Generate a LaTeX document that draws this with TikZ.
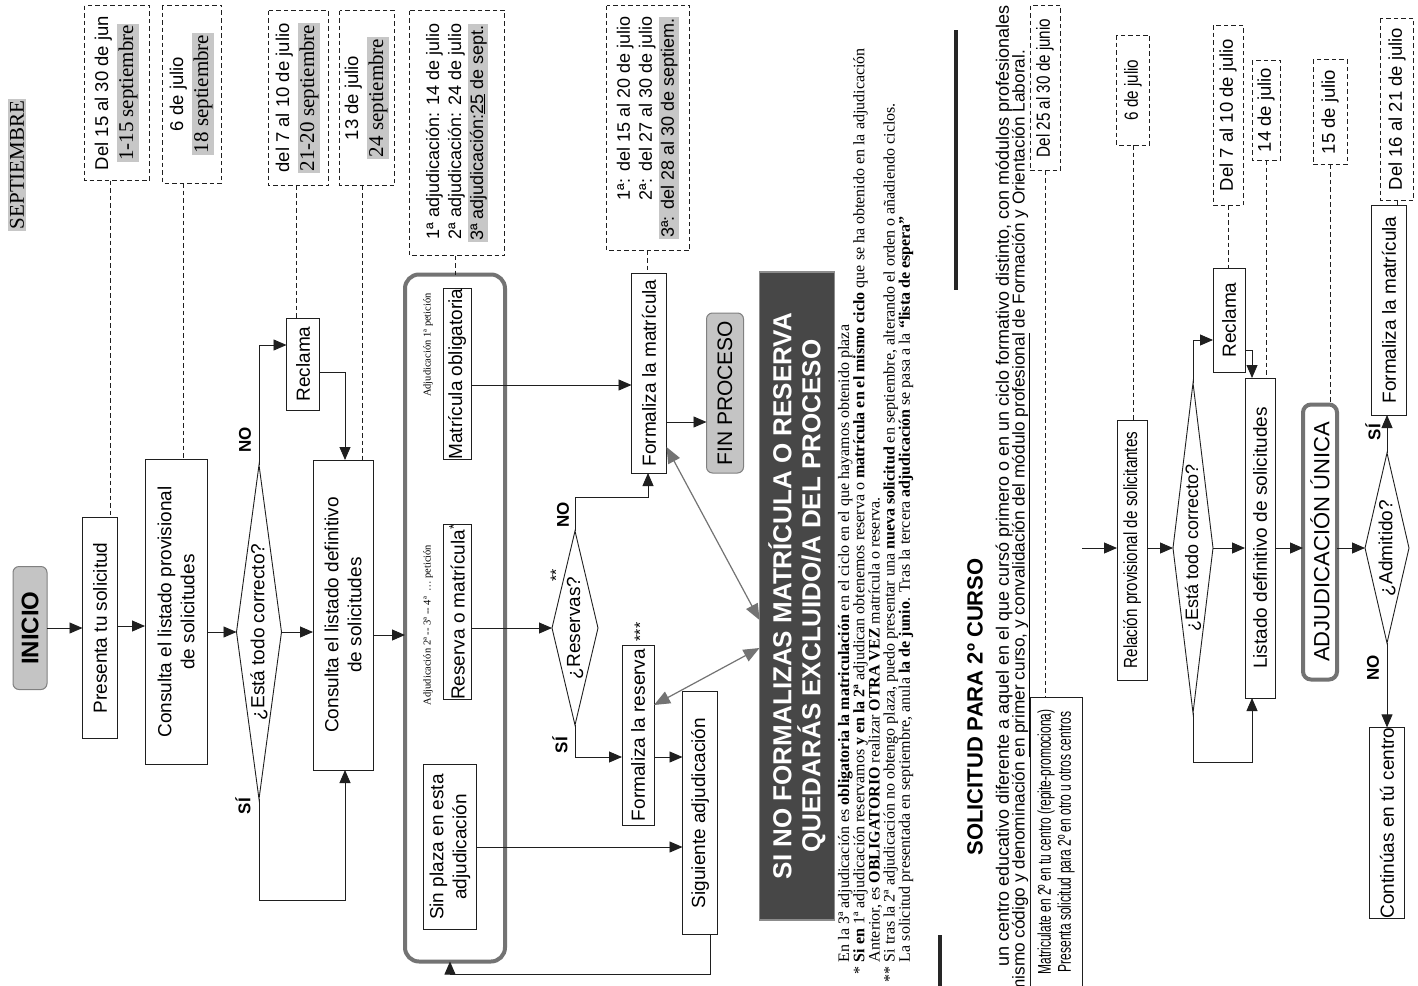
\documentclass[tikz,border=0pt]{standalone}
\usepackage{fontspec}
\setmainfont{Liberation Sans}
\newfontfamily\serfont{Liberation Serif}
\newfontfamily\narfont[FakeStretch=0.8]{Liberation Sans}
\newfontfamily\narrfont[FakeStretch=0.65]{Liberation Sans}
\usetikzlibrary{shapes.geometric,arrows.meta}
\definecolor{hlgray}{gray}{0.78}
\definecolor{ln}{gray}{0.12}
\newcommand\hlg[1]{{\setlength\fboxsep{1.5pt}\colorbox{hlgray}{#1}}}
\newcommand\ftA{\fontsize{19}{23}\selectfont}
\newcommand\ftD{\fontsize{18.5}{23}\selectfont}
\newcommand\ftS{\serfont\fontsize{21}{24}\selectfont}
\newcommand\ftN{\narfont\fontsize{19}{21}\selectfont}
\newcommand\ftL{\bfseries\fontsize{17}{20}\selectfont}
\newcommand\ftT{\serfont\fontsize{10.5}{12}\selectfont}
\newcommand\ftF{\serfont\fontsize{16}{15.2}\selectfont}
\begin{document}
\begin{tikzpicture}[x=1pt,y=-1pt,
 every node/.style={rotate=90,inner sep=0pt,outer sep=0pt},
 sz/.style 2 args={minimum width=#1pt,minimum height=#2pt},
 fbox/.style={draw=ln,line width=0.9pt,fill=white,align=center,font=\ftA},
 nbox/.style={draw=ln,line width=0.9pt,fill=white,align=center,font=\ftN},
 dbox/.style={draw=ln,dash pattern=on 4.5pt off 3pt,line width=0.9pt,align=center,font=\ftD},
 dia/.style={diamond,draw=ln,line width=0.9pt,font=\ftA},
 lab/.style={font=\ftL},
 arr/.style={draw=ln,line width=0.9pt,-{Triangle[length=13pt,width=11pt]}},
 dsh/.style={draw=ln,line width=0.9pt,dash pattern=on 4.5pt off 3pt},
 garr/.style={draw=black!55,line width=1.2pt,{Triangle[length=16pt,width=13pt]}-{Triangle[length=16pt,width=13pt]}},
 heavybox/.style={draw=black!55,line width=4pt,fill=white},
 grayround/.style={draw=black!50,fill=black!23,line width=1pt,rounded corners=6pt},
]
\fill[white] (0,0) rectangle (1418,985);
\useasboundingbox (0,0) rectangle (1418,985);
\clip (0,0) rectangle (1418,985);

% ---------------- Section 1 ----------------
\node[font=\ftS,fill=hlgray,inner sep=1.5pt] (sept) at (17,165) {SEPTIEMBRE};
\node[dbox,sz={175}{65}] (d1) at (117,93) {Del 15 al 30 de jun\\[2pt]\hlg{\ftS 1-15 septiembre}};
\node[dbox,sz={178}{59}] (d2) at (192,94) {6 de julio\\[2pt]\hlg{\ftS 18 septiembre}};
\node[dbox,sz={175}{60}] (d3) at (298,98) {del 7 al 10 de julio\\[2pt]\hlg{\ftS 21-20 septiembre}};
\node[dbox,sz={175}{55}] (d4) at (367,98) {13 de julio\\[2pt]\hlg{\ftS 24 septiembre}};
\node[dbox,sz={245}{95},align=right,font=\fontsize{18}{22}\selectfont] (d5) at (457,133)
  {1ª adjudicación: 14 de julio\\2ª adjudicación: 24 de julio\\\hlg{3ª adjudicación:\underline{25} de sept.}};
\node[dbox,sz={245}{83},align=right,font=\fontsize{18}{22}\selectfont] (d6) at (648,128)
  {1ª: del 15 al 20 de julio\\2ª: del 27 al 30 de julio\\\hlg{3ª: del 28 al 30 de septiem.}};

\node[grayround,sz={123}{34},font=\bfseries\fontsize{24}{28}\selectfont] (inicio) at (30,628) {INICIO};
\node[fbox,sz={221}{35}] (presenta) at (100,628) {Presenta tu solicitud};
\node[fbox,sz={305}{62}] (cons1) at (176,612) {Consulta el listado provisional\\de solicitudes};
\node[dia,sz={334}{45},shape aspect=7.4] (dia1) at (259,632) {¿Está todo correcto?};
\node[fbox,sz={92}{33}] (rec1) at (303,364) {Reclama};
\node[fbox,sz={310}{60}] (cons2) at (343,615) {Consulta el listado definitivo\\de solicitudes};
\node[heavybox,rounded corners=14pt,sz={687}{100}] (big) at (455,618) {};
\node[font=\ftT] (lab1) at (428,345) {Adjudicación 1ª petición};
\node[fbox,sz={162}{28}] (matob) at (457,374) {Matrícula obligatoria};
\node[font=\ftT] (lab2) at (428,625) {Adjudicación 2ª -- 3ª -- 4ª \ \dots\ petición};
\node[fbox,sz={175}{28}] (resmat) at (457,612) {Reserva o matrícula\textsuperscript{*}};
\node[fbox,sz={165}{53}] (sinpl) at (450,847) {Sin plaza en esta\\adjudicación};
\node[dia,sz={194}{46},shape aspect=4.2] (dia2) at (575,628) {¿Reservas?};
\node[fbox,sz={180}{32}] (formres) at (638,735) {Formaliza la reserva};
\node[fbox,sz={200}{35}] (formmat) at (649,373) {Formaliza la matrícula};
\node[fbox,sz={243}{35}] (sig) at (700,813) {Siguiente adjudicación};
\node[grayround,sz={160}{37},font=\fontsize{21}{24}\selectfont] (fin) at (725,393) {FIN PROCESO};
\node[fill=black!72,draw=black!45,line width=1.5pt,sz={648}{75},text=white,align=center,
  font=\bfseries\fontsize{26}{29}\selectfont] (dark) at (797,596)
  {SI NO FORMALIZAS MATRÍCULA O RESERVA\\QUEDARÁS EXCLUIDO/A DEL PROCESO};

\node[lab] (no1) at (245,440) {NO};
\node[lab] (si1) at (243,806) {SÍ};
\node[lab] (no2) at (563,515) {NO};
\node[lab] (si2) at (560,745) {SÍ};
\node[font=\fontsize{16}{16}\selectfont] (ast2) at (556,575) {**};
\node[font=\fontsize{16}{16}\selectfont] (ast3) at (640,632) {***};

\draw[arr] (inicio) -- (presenta);
\draw[arr] (presenta.south |- 0,626) -- (cons1.north |- 0,626);
\draw[arr] (cons1.south |- dia1.north) -- (dia1.north);
\draw[arr] (dia1.south) -- (cons2.north |- dia1.south);
\draw[arr] (dia1.east) |- (rec1.north |- 0,345);
\draw[arr] (rec1.south |- 0,372) -| (cons2.east -| 345,0);
\draw[arr] (dia1.west) -- (dia1.west |- 0,900) -| (cons2.west -| 345,0);
\draw[arr] (cons2.south |- 0,635) -- (big.north |- 0,635);
\draw[arr] (matob.south |- 0,385) -- (formmat.north |- 0,385);
\draw[arr] (resmat.south |- dia2.north) -- (dia2.north);
\draw[arr] (dia2.east) -- (dia2.east |- 0,497) -| (formmat.west -| 648,0);
\draw[arr] (dia2.west) |- (formres.north |- 0,757);
\draw[arr] (formres.south |- 0,757) -- (sig.north |- 0,757);
\draw[arr] (sinpl.south |- 0,847) -- (sig.north |- 0,847);
\draw[arr] (sig.west -| 710,0) -- ++(0,40) -| (big.west -| 450,0);
\draw[arr] (formmat.south |- 0,422) -- (fin.north |- 0,422);
\draw[garr] (formmat.south |- 0,447) -- (dark.north |- 0,620);
\draw[garr] (formres.south |- 0,705) -- (dark.north |- 0,648);

\draw[dsh] (d1.west -| 110,0) -- (presenta.east -| 110,0);
\draw[dsh] (d2.west -| 183,0) -- (cons1.east -| 183,0);
\draw[dsh] (d3.west -| 296,0) -- (rec1.east -| 296,0);
\draw[dsh] (d4.west -| 362,0) -- (cons2.east -| 362,0);
\draw[dsh] (d5.west -| 455,0) -- (big.east -| 455,0);
\draw[dsh] (d6.west -| 647,0) -- (formmat.east -| 647,0);

\node[anchor=north west,font=\ftF,align=left] (notes) at (838,962) {%
En la 3ª adjudicación es \textbf{obligatoria la matriculación} en el ciclo en el que hayamos obtenido plaza\\
\llap{*\ }\textbf{Si en} 1ª adjudicación reservamos \textbf{y en la 2ª} adjudican obtenemos reserva o \textbf{matrícula en el mismo ciclo} que se ha obtenido en la adjudicación\\
Anterior, es \textbf{OBLIGATORIO} realizar \textbf{OTRA VEZ} matrícula o reserva.\\
\llap{**\ }Si tras la 2ª adjudicación no obtengo plaza, puedo presentar una \textbf{nueva solicitud} en septiembre, alterando el orden o añadiendo ciclos.\\
La solicitud presentada en septiembre, anula \textbf{la de junio}. Tras la tercera \textbf{adjudicación} se pasa a la \textbf{“lista de espera”}};

\draw[line width=3.5pt,black!85] (956,30) -- (956,290);
\draw[line width=3.5pt,black!85] (940,935) -- (940,990);

% ---------------- Section 2 ----------------
\node[font=\bfseries\fontsize{22}{26}\selectfont] (title2) at (975,707) {SOLICITUD PARA 2º CURSO};
\node[anchor=east,font=\fontsize{18}{20}\selectfont] (txt1) at (1004,5)
  {un centro educativo diferente a aquel en el que cursó primero o en un ciclo formativo distinto, con módulos profesionales};
\node[anchor=east,font=\fontsize{17.2}{20}\selectfont] (txt2) at (1021,50)
  {mismo código y denominación \underline{en primer curso, y convalidación del módulo profesional} de Formación y Orientación Laboral.};

\node[dbox,sz={165}{30},font=\ftN] (d7) at (1045,88) {Del 25 al 30 de junio};
\node[nbox,sz={290}{52},font=\narrfont\fontsize{18.5}{20}\selectfont] (matri) at (1056,842)
  {Matriculate en 2º en tu centro (repite-promociona)\\Presenta solicitud para 2º en otro u otros centros};
\node[dbox,sz={110}{33},font=\ftN] (d8) at (1133,90) {6 de julio};
\node[nbox,sz={260}{30},font=\narfont\fontsize{19}{22}\selectfont] (relprov) at (1132,550) {Relación provisional de solicitantes};
\node[dia,sz={330}{40},shape aspect=8.25,font=\fontsize{18}{21}\selectfont] (dia3) at (1193,548) {¿Está todo correcto?};
\node[fbox,sz={104}{32}] (rec2) at (1229,320) {Reclama};
\node[dbox,sz={180}{30}] (d9) at (1228,115) {Del 7 al 10 de julio};
\node[dbox,sz={100}{28}] (d10) at (1266,110) {14 de julio};
\node[fbox,sz={320}{30}] (listdef) at (1260,538) {Listado definitivo de solicitudes};
\node[heavybox,rounded corners=8pt,sz={275}{34},font=\fontsize{22}{26}\selectfont] (adjun) at (1320,542) {ADJUDICACIÓN ÚNICA};
\node[dbox,sz={105}{34}] (d11) at (1330,112) {15 de julio};
\node[dia,sz={190}{44},shape aspect=4.3] (dia4) at (1387,548) {¿Admitido?};
\node[fbox,sz={210}{35}] (formmat2) at (1389,310) {Formaliza la matrícula};
\node[dbox,sz={182}{33}] (d12) at (1397,109) {Del 16 al 21 de julio};
\node[fbox,sz={190}{35}] (contin) at (1387,823) {Continúas en tú centro};
\node[lab] (si3) at (1373,432) {SÍ};
\node[lab] (no3) at (1373,668) {NO};

\draw[arr] (matri.south |- 0,548) -- (relprov.north |- 0,548);
\draw[arr] (relprov.south |- dia3.north) -- (dia3.north);
\draw[arr] (dia3.south) -- (listdef.north |- dia3.south);
\draw[arr] (dia3.east) |- (rec2.north |- 0,340);
\draw[arr] (rec2.south |- 0,350) -| (listdef.east -| 1252,0);
\draw[arr] (dia3.west) -- ++(0,49) -| (listdef.west -| 1252,0);
\draw[arr] (listdef.south |- 0,548) -- (adjun.north |- 0,548);
\draw[arr] (adjun.south |- dia4.north) -- (dia4.north);
\draw[arr] (dia4.east) -- (dia4.east |- formmat2.west);
\draw[arr] (dia4.west) -- (dia4.west |- contin.east);

\draw[dsh] (d7.west) -- (d7.west |- matri.east);
\draw[dsh] (d8.west) -- (d8.west |- relprov.east);
\draw[dsh] (d9.west) -- (d9.west |- rec2.east);
\draw[dsh] (d10.west) -- (d10.west |- listdef.east);
\draw[dsh] (d11.west) -- (d11.west |- adjun.east);
\draw[dsh] (d12.west) -- (d12.west |- formmat2.east);
\end{tikzpicture}
\end{document}
